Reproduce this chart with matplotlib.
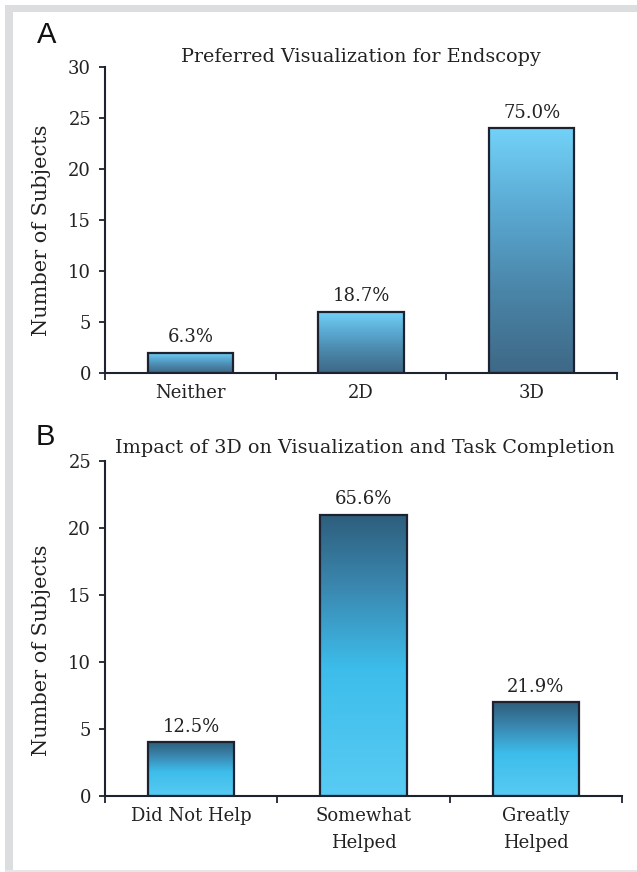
import numpy as np
import matplotlib.pyplot as plt
from matplotlib.colors import LinearSegmentedColormap
from matplotlib.patches import Rectangle

# Panel A data
cats_a = ['Neither', '2D', '3D']
counts_a = [2, 6, 24]
pct_a = ['6.3%', '18.7%', '75.0%']

# Panel B data
cats_b = ['Did Not Help', 'Somewhat\nHelped', 'Greatly\nHelped']
counts_b = [4, 21, 7]
pct_b = ['12.5%', '65.6%', '21.9%']

SERIF = 'DejaVu Serif'
FS = 13
EDGE = '#1c2230'
TXT = '#222222'

cmap_a = LinearSegmentedColormap.from_list('a', ['#72D2F8', '#5AA9D2', '#4A85A8', '#3E6886'])
cmap_b = LinearSegmentedColormap.from_list('b', [(0.0, '#2E5E7C'), (0.25, '#3A86AE'),
                                                 (0.55, '#3DBDEB'), (1.0, '#58CBF3')])


def gradient_bars(ax, cats, counts, pcts, cmap, ymax, ystep):
    x = np.arange(len(cats))
    bars = ax.bar(x, counts, width=0.5, facecolor='none', edgecolor=EDGE,
                  linewidth=1.6, zorder=3)
    grad = np.linspace(0, 1, 256).reshape(-1, 1)
    for b, p in zip(bars, pcts):
        x0, w, h = b.get_x(), b.get_width(), b.get_height()
        ax.imshow(grad, extent=(x0, x0 + w, 0, h), cmap=cmap, aspect='auto',
                  interpolation='bicubic', zorder=2)
        ax.annotate(p, (x0 + w / 2, h), xytext=(0, 7.5), textcoords='offset points',
                    ha='center', va='baseline', fontsize=FS, family=SERIF, color=TXT)

    ax.set_xlim(-0.5, len(cats) - 0.5)
    ax.set_ylim(0, ymax)
    ax.set_yticks(np.arange(0, ymax + 1, ystep))
    # ticks sit on category boundaries, labels in between
    ax.set_xticks(np.arange(-0.5, len(cats), 1.0))
    ax.set_xticklabels([])
    ax.set_xticks(x, minor=True)
    ax.set_xticklabels(cats, minor=True, family=SERIF, fontsize=FS, color=TXT,
                       linespacing=1.6)
    ax.tick_params(axis='x', which='major', direction='out', length=5, width=1.3, color=EDGE)
    ax.tick_params(axis='x', which='minor', length=0, pad=8)
    ax.tick_params(axis='y', direction='out', length=4, width=1.3, color=EDGE, pad=6,
                   labelsize=FS)
    for lab in ax.get_yticklabels():
        lab.set_family(SERIF)
        lab.set_color(TXT)
    for s in ['top', 'right']:
        ax.spines[s].set_visible(False)
    for s in ['left', 'bottom']:
        ax.spines[s].set_color(EDGE)
        ax.spines[s].set_linewidth(1.5)


fig = plt.figure(figsize=(6.37, 8.72), dpi=100)

# light grey frame like the source figure
fig.patches.append(Rectangle((5 / 637, 0), 8 / 637, 867 / 872, transform=fig.transFigure,
                             facecolor='#DCDDDE', edgecolor='none', zorder=0))
fig.patches.append(Rectangle((5 / 637, 860 / 872), 632 / 637, 7 / 872, transform=fig.transFigure,
                             facecolor='#DCDDDE', edgecolor='none', zorder=0))
fig.patches.append(Rectangle((5 / 637, 0), 632 / 637, 2.5 / 872, transform=fig.transFigure,
                             facecolor='#E6E7E8', edgecolor='none', zorder=0))

ax_a = fig.add_axes([105 / 637, 1 - 373 / 872, 512 / 637, 306 / 872])
gradient_bars(ax_a, cats_a, counts_a, pct_a, cmap_a, 30, 5)

ax_b = fig.add_axes([105 / 637, 1 - 796 / 872, 517 / 637, 335 / 872])
gradient_bars(ax_b, cats_b, counts_b, pct_b, cmap_b, 25, 5)

fig.text(361 / 637, 1 - 57 / 872, 'Preferred Visualization for Endscopy', ha='center',
         va='center', family=SERIF, fontsize=13.8, color=TXT)
fig.text(365 / 637, 1 - 448 / 872, 'Impact of 3D on Visualization and Task Completion',
         ha='center', va='center', family=SERIF, fontsize=13.8, color=TXT)

fig.text(47 / 637, 1 - 35 / 872, 'A', ha='center', va='center', family='Liberation Sans',
         fontsize=21, color='#111111')
fig.text(45 / 637, 1 - 437 / 872, 'B', ha='center', va='center', family='Liberation Sans',
         fontsize=21, color='#111111')

fig.text(42 / 637, 1 - 230 / 872, 'Number of Subjects', rotation=90, ha='center', va='center',
         family=SERIF, fontsize=15, color=TXT)
fig.text(42 / 637, 1 - 650 / 872, 'Number of Subjects', rotation=90, ha='center', va='center',
         family=SERIF, fontsize=15, color=TXT)

fig.savefig('out.png', dpi=100)
